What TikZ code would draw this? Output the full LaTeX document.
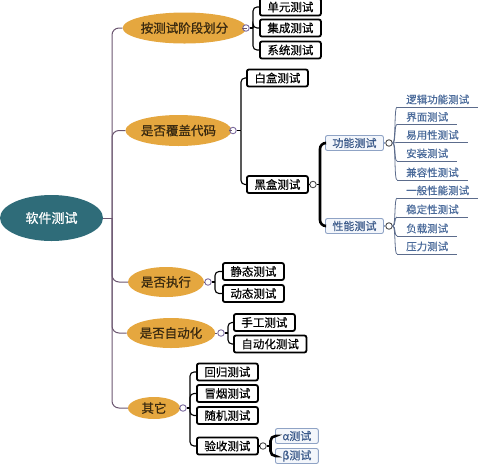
\documentclass[tikz,border=0pt]{standalone}
\usepackage{fontspec}
\setmainfont{Noto Sans CJK SC}
\newfontfamily\heavyfont[FakeBold=0.8]{Noto Sans CJK SC}
\newfontfamily\midfont[FakeBold=0.4]{Noto Sans CJK SC}
\usetikzlibrary{shapes.geometric}
\definecolor{rootc}{HTML}{2F6C79}
\definecolor{orc}{HTML}{E5A73F}
\definecolor{ortext}{HTML}{3A2A10}
\definecolor{lonec}{HTML}{6B5670}
\definecolor{dotc}{HTML}{7A6A9E}
\definecolor{bbord}{HTML}{8FA3C5}
\definecolor{bfill}{HTML}{F3F6FB}
\definecolor{btext}{HTML}{3B5A8A}
\definecolor{ltext}{HTML}{4A6A9A}
\definecolor{uline}{HTML}{5C6C8C}
\begin{document}
\begin{tikzpicture}[x=1pt,y=-1pt,
  rootnode/.style={ellipse, fill=rootc, text=white, minimum width=103, minimum height=46, inner sep=0pt, font=\heavyfont\fontsize{13}{15}\selectfont},
  lone/.style={ellipse, fill=orc, text=ortext, inner sep=0pt, minimum height=31, font=\heavyfont\fontsize{12.5}{14}\selectfont},
  wbox/.style={draw=black, line width=1.8pt, rounded corners=2pt, fill=white, minimum height=17, inner xsep=7.5pt, inner ysep=0pt, anchor=west, font=\midfont\fontsize{11.5}{13}\selectfont},
  bbox/.style={draw=bbord, fill=bfill, text=btext, line width=0.9pt, rounded corners=2pt, minimum height=15, inner xsep=7pt, inner ysep=0pt, anchor=west, font=\midfont\fontsize{11}{13}\selectfont},
  leaf/.style={text=ltext, anchor=south west, inner xsep=9pt, inner ysep=2.5pt, font=\midfont\fontsize{10.5}{12}\selectfont},
  odot/.style={circle, draw=dotc, fill=white, minimum size=6.5, inner sep=0pt, line width=0.9pt},
  kdot/.style={circle, draw=black!70, fill=white, minimum size=6.5, inner sep=0pt, line width=0.9pt},
  oneline/.style={draw=lonec, line width=1pt},
  twoline/.style={draw=black, line width=1.1pt},
  fanline/.style={draw=uline, line width=0.8pt},
  bracestyle/.style={draw=black, line width=2.6pt, rounded corners=6pt}
]
\useasboundingbox (0,0) rectangle (490,467);

% root and level 1
\node[rootnode] (root) at (51.5,218) {软件测试};
\node[lone, minimum width=113] (n1) at (184.5,28) {按测试阶段划分};
\node[lone, minimum width=101] (n2) at (178.5,130.5) {是否覆盖代码};
\node[lone, minimum width=76, minimum height=30] (n3) at (166,282) {是否执行};
\node[lone, minimum width=88, minimum height=30] (n4) at (171,333) {是否自动化};
\node[lone, minimum width=52, minimum height=22] (n5) at (154,408) {其它};

\coordinate (t) at (112,218);
\draw[oneline] (root.east) -- (t);
\foreach \n in {n1,n2,n3,n4,n5}
  \draw[oneline, rounded corners=7pt] (t) |- (\n.west);

% dots
\node[odot] (d1) at (246,28) {};
\node[odot] (d2) at (233,130.5) {};
\node[odot] (d6) at (208,282) {};
\node[odot] (d7) at (221,333) {};
\node[odot] (d8) at (183,408) {};
\foreach \a/\b in {n1/d1,n2/d2,n3/d6,n4/d7,n5/d8}
  \draw[oneline] (\a.east) -- (\b.west);

% group 1
\node[wbox] (a1) at (259,7) {单元测试};
\node[wbox] (a2) at (259,28) {集成测试};
\node[wbox] (a3) at (259,50) {系统测试};
\coordinate (j1) at (253,28);
\draw[twoline] (d1.east) -- (j1);
\foreach \m in {a1,a2,a3}
  \draw[twoline, rounded corners=4pt] (j1) |- (\m.west);

% group 2
\node[wbox] (b1) at (246,78) {白盒测试};
\node[wbox] (b2) at (246,184.5) {黑盒测试};
\coordinate (j2) at (241,130.5);
\draw[twoline] (d2.east) -- (j2);
\foreach \m in {b1,b2}
  \draw[twoline, rounded corners=4pt] (j2) |- (\m.west);

\node[kdot] (d3) at (313,184.5) {};
\draw[twoline] (b2.east) -- (d3.west);
\node[bbox] (c1) at (325,143) {功能测试};
\node[bbox] (c2) at (325,226) {性能测试};
\coordinate (j3) at (320,184.5);
\draw[twoline] (d3.east) -- (j3);
\draw[bracestyle] (c1.west) -| (j3) |- (c2.west);

\node[kdot] (d4) at (389,143) {};
\node[kdot] (d5) at (389,226) {};
\draw[twoline, draw=bbord] (c1.east) -- (d4.west);
\draw[twoline, draw=bbord] (c2.east) -- (d5.west);

% functional leaves
\node[leaf] (l1) at (397,107) {逻辑功能测试};
\node[leaf] (l2) at (397,124.5) {界面测试};
\node[leaf] (l3) at (397,142.5) {易用性测试};
\node[leaf] (l4) at (397,161) {安装测试};
\node[leaf] (l5) at (397,180) {兼容性测试};
\foreach \m in {l1,l2,l3,l4,l5}{
  \draw[fanline] (\m.south west) -- (\m.south east);
  \draw[fanline] (d4.east) .. controls (396,143) and (394,0 |- \m.south west) .. (\m.south west);
}
% performance leaves
\node[leaf] (p1) at (397,198) {一般性能测试};
\node[leaf] (p2) at (397,217) {稳定性测试};
\node[leaf] (p3) at (397,236) {负载测试};
\node[leaf] (p4) at (397,254) {压力测试};
\foreach \m in {p1,p2,p3,p4}{
  \draw[fanline] (\m.south west) -- (\m.south east);
  \draw[fanline] (d5.east) .. controls (396,226) and (394,0 |- \m.south west) .. (\m.south west);
}

% group 3
\node[wbox] (e1) at (222,271.5) {静态测试};
\node[wbox] (e2) at (222,293.5) {动态测试};
\coordinate (j6) at (215,282);
\draw[twoline] (d6.east) -- (j6);
\foreach \m in {e1,e2}
  \draw[twoline, rounded corners=4pt] (j6) |- (\m.west);

% group 4
\node[wbox] (f1) at (233,322.5) {手工测试};
\node[wbox] (f2) at (233,344) {自动化测试};
\coordinate (j7) at (228,333);
\draw[twoline] (d7.east) -- (j7);
\foreach \m in {f1,f2}
  \draw[twoline, rounded corners=4pt] (j7) |- (\m.west);

% group 5
\node[wbox] (g1) at (196,372) {回归测试};
\node[wbox] (g2) at (196,393.5) {冒烟测试};
\node[wbox] (g3) at (196,415.5) {随机测试};
\node[wbox] (g4) at (196,446) {验收测试};
\coordinate (j8) at (190,408);
\draw[twoline] (d8.east) -- (j8);
\foreach \m in {g1,g2,g3,g4}
  \draw[twoline, rounded corners=4pt] (j8) |- (\m.west);

\node[kdot] (d9) at (263,446) {};
\draw[twoline] (g4.east) -- (d9.west);
\node[bbox] (h1) at (275,436) {α测试};
\node[bbox] (h2) at (275,456) {β测试};
\coordinate (j9) at (270.5,446);
\draw[twoline] (d9.east) -- (j9);
\draw[bracestyle, rounded corners=5pt] (h1.west) -| (j9) |- (h2.west);
\end{tikzpicture}
\end{document}
